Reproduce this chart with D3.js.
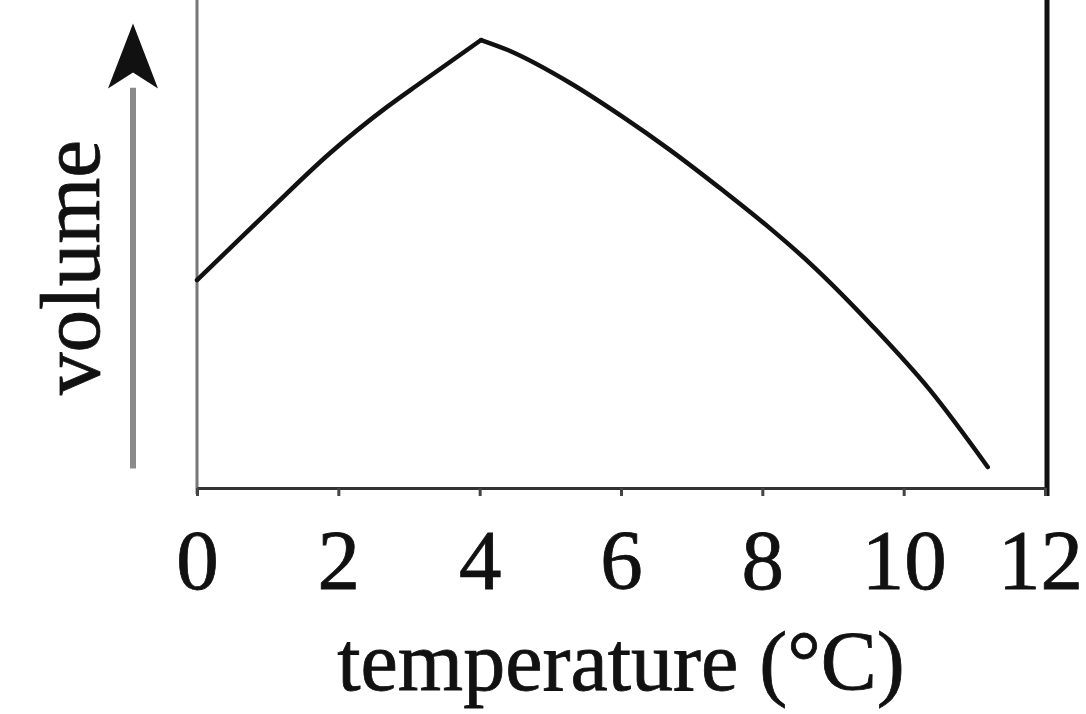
<!DOCTYPE html>
<html>
<head>
<meta charset="utf-8">
<script src="https://cdn.jsdelivr.net/npm/d3@7"></script>
<style>
  html, body { margin: 0; padding: 0; background: #fff; }
  svg { display: block; }
  text { font-family: "Liberation Serif", "DejaVu Serif", serif; fill: #111; stroke: #111; stroke-width: 0.8px; }
</style>
</head>
<body>
<svg id="chart" width="1086" height="714"></svg>
<script>
// Data (temperature in °C, volume in arbitrary units)
const riseTemp   = [0, 1.03, 1.88, 2.69, 3.16, 4.02];
const riseVolume = [4.26, 5.70, 6.86, 7.81, 8.30, 9.18];
const fallTemp   = [4.02, 4.39, 5.28, 6.03, 6.69, 7.44, 8.11, 8.67, 9.57, 10.37, 11.19];
const fallVolume = [9.18, 8.98, 8.30, 7.60, 6.93, 6.10, 5.32, 4.61, 3.30, 2.01, 0.43];
const xTicks = [0, 2, 4, 6, 8, 10, 12];
const xLabel = "temperature (°C)";
const yLabel = "volume";

const svg = d3.select("#chart");
const mLeft = 197, mRight = 1045, mBottom = 488, mTop = 0;

const x = d3.scaleLinear().domain([0, 12]).range([mLeft, mRight]);
const y = d3.scaleLinear().domain([0, 10]).range([mBottom, mTop]);

// left axis line (grey)
svg.append("line")
  .attr("x1", mLeft).attr("x2", mLeft)
  .attr("y1", mTop).attr("y2", mBottom + 6)
  .attr("stroke", "#777").attr("stroke-width", 3);

// right frame line (black)
svg.append("line")
  .attr("x1", mRight + 2).attr("x2", mRight + 2)
  .attr("y1", mTop).attr("y2", mBottom + 8)
  .attr("stroke", "#111").attr("stroke-width", 5);

// bottom axis
const xAxis = d3.axisBottom(x)
  .tickValues(xTicks)
  .tickFormat(d3.format("d"))
  .tickSize(8)
  .tickSizeOuter(0)
  .tickPadding(33);

const gx = svg.append("g")
  .attr("transform", `translate(0,${mBottom})`)
  .call(xAxis);
gx.select(".domain").attr("stroke", "#333").attr("stroke-width", 3);
gx.selectAll(".tick line").attr("stroke", "#444").attr("stroke-width", 3);
gx.selectAll(".tick text")
  .style("font-family", '"Liberation Serif", "DejaVu Serif", serif')
  .style("font-size", "85px")
  .attr("fill", "#111");
// keep the last label inside the frame
gx.selectAll(".tick text").filter(d => d === 12).attr("dx", "-0.06em");

// x axis title
svg.append("text")
  .attr("x", x(6))
  .attr("y", 690)
  .attr("text-anchor", "middle")
  .style("font-size", "84px")
  .text(xLabel);

// y axis title
svg.append("text")
  .attr("transform", `translate(99, ${y(4.52)}) rotate(-90)`)
  .attr("text-anchor", "middle")
  .style("font-size", "85px")
  .text(yLabel);

// arrow next to y label
const ax = mLeft - 64;
svg.append("line")
  .attr("x1", ax).attr("x2", ax)
  .attr("y1", y(0.4)).attr("y2", y(8.2))
  .attr("stroke", "#8a8a8a").attr("stroke-width", 6);
const tipY = y(9.52);
svg.append("path")
  .attr("d", `M${ax},${tipY} L${ax + 25},${tipY + 65} L${ax},${tipY + 49} L${ax - 25},${tipY + 65} Z`)
  .attr("fill", "#111");

// curves
const line = d3.line()
  .x(d => x(d[0]))
  .y(d => y(d[1]))
  .curve(d3.curveMonotoneX);

const rise = riseTemp.map((t, i) => [t, riseVolume[i]]);
const fall = fallTemp.map((t, i) => [t, fallVolume[i]]);

svg.append("path")
  .datum(rise)
  .attr("d", line)
  .attr("fill", "none")
  .attr("stroke", "#111")
  .attr("stroke-width", 4.5)
  .attr("stroke-linecap", "round")
  .attr("stroke-linejoin", "round");

svg.append("path")
  .datum(fall)
  .attr("d", line)
  .attr("fill", "none")
  .attr("stroke", "#111")
  .attr("stroke-width", 4.5)
  .attr("stroke-linecap", "round")
  .attr("stroke-linejoin", "round");
</script>
</body>
</html>
